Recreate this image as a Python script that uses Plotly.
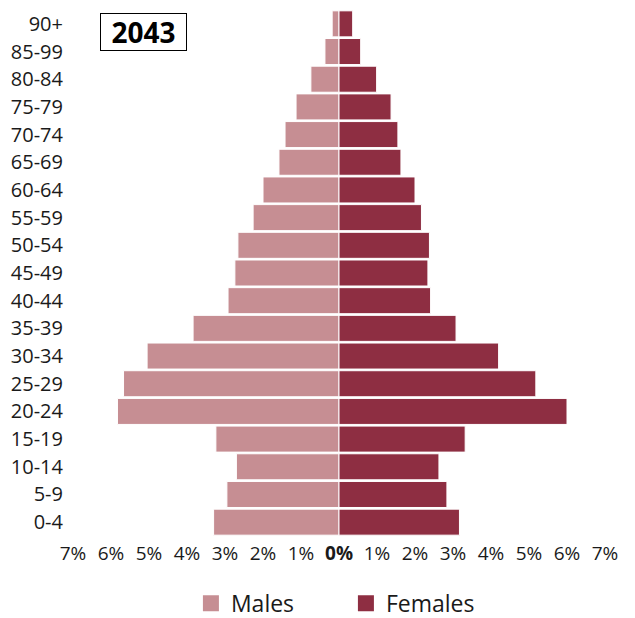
import plotly.graph_objects as go

age_groups = ["0-4", "5-9", "10-14", "15-19", "20-24", "25-29", "30-34", "35-39",
              "40-44", "45-49", "50-54", "55-59", "60-64", "65-69", "70-74",
              "75-79", "80-84", "85-99", "90+"]
males = [3.30, 2.95, 2.70, 3.24, 5.83, 5.67, 5.05, 3.84, 2.92, 2.74, 2.66, 2.26,
         2.00, 1.58, 1.42, 1.13, 0.74, 0.37, 0.18]
females = [3.17, 2.84, 2.63, 3.32, 6.00, 5.18, 4.20, 3.08, 2.41, 2.34, 2.38, 2.17,
           2.00, 1.63, 1.55, 1.37, 0.99, 0.57, 0.36]
tick_values = [-7, -6, -5, -4, -3, -2, -1, 0, 1, 2, 3, 4, 5, 6, 7]
tick_labels = ["7%", "6%", "5%", "4%", "3%", "2%", "1%", "<b>0%</b>", "1%", "2%",
               "3%", "4%", "5%", "6%", "7%"]
year_label = "2043"

male_color = "#C68E93"
female_color = "#8E2E42"
font_family = "Open Sans, Noto Sans, sans-serif"

fig = go.Figure()
fig.add_trace(go.Bar(
    y=age_groups, x=[-v for v in males], orientation="h", name="Males",
    marker=dict(color=male_color, line=dict(color="white", width=1)),
    showlegend=False, base=0, hoverinfo="skip",
))
fig.add_trace(go.Bar(
    y=age_groups, x=females, orientation="h", name="Females",
    marker=dict(color=female_color, line=dict(color="white", width=1)),
    showlegend=False, base=0, hoverinfo="skip",
))
# legend proxies
fig.add_trace(go.Scatter(x=[None], y=[None], mode="markers", name="Males",
                         marker=dict(symbol="square", size=20, color=male_color)))
fig.add_trace(go.Scatter(x=[None], y=[None], mode="markers", name="Females",
                         marker=dict(symbol="square", size=20, color=female_color)))

fig.update_layout(
    width=635, height=618,
    margin=dict(l=73, r=30, t=10, b=82, autoexpand=False),
    paper_bgcolor="white", plot_bgcolor="white",
    barmode="overlay", bargap=0.06,
    font=dict(family=font_family, size=20, color="#1a1a1a"),
    xaxis=dict(range=[-7, 7], tickvals=tick_values, ticktext=tick_labels,
               showgrid=False, zeroline=False, showline=False, ticks="",
               tickfont=dict(size=19), fixedrange=True, automargin=False,
               ticklabelstandoff=4),
    yaxis=dict(categoryorder="array", categoryarray=age_groups, showgrid=False,
               zeroline=False, showline=False, ticks="", ticklen=0,
               tickfont=dict(size=20), ticklabelstandoff=9, automargin=False,
               fixedrange=True),
    legend=dict(orientation="h", x=0.513, xanchor="center", y=-0.128, yanchor="middle",
                font=dict(size=23), entrywidth=110, itemsizing="trace"),
    annotations=[dict(text="<b>" + year_label + "</b>", xref="paper", yref="paper",
                      x=0.0508, y=0.994, xanchor="left", yanchor="top", showarrow=False,
                      font=dict(size=28, color="black"), bordercolor="black",
                      borderwidth=1, borderpad=0, width=85, height=36,
                      bgcolor="white")],
)

fig.write_html("out.html", config={"displayModeBar": False},
               post_script="document.body.style.margin='0px';")
